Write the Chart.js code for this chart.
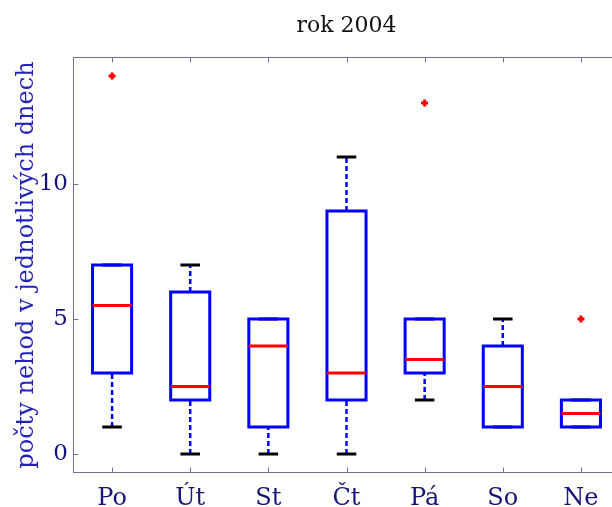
<!DOCTYPE html>
<html>
<head>
<meta charset="utf-8">
<script src="https://cdn.jsdelivr.net/npm/chart.js@4/dist/chart.umd.min.js"></script>
<style>
  html, body { margin: 0; padding: 0; background: #fff; overflow: hidden; }
  #wrap { width: 640px; height: 507px; }
</style>
</head>
<body>
<div id="wrap"><canvas id="c" width="640" height="507"></canvas></div>
<script>
// ---- data ----
const days = ['Po', 'Út', 'St', 'Čt', 'Pá', 'So', 'Ne'];
const whiskerLow  = [1, 0, 0, 0, 2, 1, 1];
const quartile1   = [3, 2, 1, 2, 3, 1, 1];
const medians     = [5.5, 2.5, 4, 3, 3.5, 2.5, 1.5];
const quartile3   = [7, 6, 5, 9, 5, 4, 2];
const whiskerHigh = [7, 7, 5, 11, 5, 5, 2];
const outlierDay   = ['Po', 'Pá', 'Ne'];
const outlierValue = [14, 13, 5];
const yTickValues  = [0, 5, 10];

const chartTitle = 'rok 2004';
const yAxisTitle = 'počty nehod v jednotlivých dnech';

// ---- build datasets from data ----
const BOX_HALF = 0.25, CAP_HALF = 0.125;
const posOf = i => i + 1;
const boxPts = [], medPts = [], whiskPts = [], capPts = [];
days.forEach((d, i) => {
  const p = posOf(i);
  boxPts.push({x: p - BOX_HALF, y: quartile1[i]}, {x: p + BOX_HALF, y: quartile1[i]},
              {x: p + BOX_HALF, y: quartile3[i]}, {x: p - BOX_HALF, y: quartile3[i]},
              {x: p - BOX_HALF, y: quartile1[i]}, {x: p, y: null});
  medPts.push({x: p - BOX_HALF, y: medians[i]}, {x: p + BOX_HALF, y: medians[i]}, {x: p, y: null});
  whiskPts.push({x: p, y: whiskerLow[i]}, {x: p, y: quartile1[i]}, {x: p, y: null},
                {x: p, y: quartile3[i]}, {x: p, y: whiskerHigh[i]}, {x: p, y: null});
  capPts.push({x: p - CAP_HALF, y: whiskerLow[i]}, {x: p + CAP_HALF, y: whiskerLow[i]}, {x: p, y: null},
              {x: p - CAP_HALF, y: whiskerHigh[i]}, {x: p + CAP_HALF, y: whiskerHigh[i]}, {x: p, y: null});
});
const outPts = outlierDay.map((d, k) => ({x: posOf(days.indexOf(d)), y: outlierValue[k]}));

const SERIF = 'DejaVu Serif';
const NAVY = '#15157a';

const framePlugin = {
  id: 'frame',
  beforeDatasetsDraw(chart) {
    const {ctx, chartArea: a, scales: {x, y}} = chart;
    ctx.save();
    ctx.strokeStyle = '#707092';
    ctx.lineWidth = 1;
    const L = Math.round(a.left) + 0.5, R = Math.round(a.right) - 0.5;
    const T = Math.round(a.top) + 0.5, B = Math.round(a.bottom) - 0.5;
    ctx.strokeRect(L, T, R - L, B - T);
    const tl = 5;
    ctx.beginPath();
    x.ticks.forEach(t => {
      const px = Math.round(x.getPixelForValue(t.value)) + 0.5;
      ctx.moveTo(px, B); ctx.lineTo(px, B - tl);
      ctx.moveTo(px, T); ctx.lineTo(px, T + tl);
    });
    y.ticks.forEach(t => {
      const py = Math.round(y.getPixelForValue(t.value)) + 0.5;
      ctx.moveTo(L, py); ctx.lineTo(L + tl, py);
      ctx.moveTo(R, py); ctx.lineTo(R - tl, py);
    });
    ctx.stroke();
    ctx.restore();
  }
};

new Chart(document.getElementById('c'), {
  type: 'scatter',
  data: {
    datasets: [
      { label: 'outliers', data: outPts, order: 0, showLine: false,
        pointStyle: 'cross', pointRadius: 3.5, pointBorderWidth: 3,
        pointBorderColor: '#ff0000', pointBackgroundColor: '#ff0000' },
      { label: 'median', data: medPts, order: 1, showLine: true, pointRadius: 0,
        borderColor: '#ff0000', borderWidth: 3, spanGaps: false },
      { label: 'box', data: boxPts, order: 2, showLine: true, pointRadius: 0,
        borderColor: '#0000ff', borderWidth: 3, borderCapStyle: 'square',
        borderJoinStyle: 'miter', spanGaps: false },
      { label: 'caps', data: capPts, order: 3, showLine: true, pointRadius: 0,
        borderColor: '#000000', borderWidth: 3, spanGaps: false },
      { label: 'whiskers', data: whiskPts, order: 4, showLine: true, pointRadius: 0,
        borderColor: '#0000ff', borderWidth: 2.5, borderDash: [5, 3], spanGaps: false }
    ]
  },
  options: {
    responsive: false,
    animation: false,
    events: [],
    layout: { padding: { top: 0, left: 0, right: 20, bottom: 0 } },
    plugins: {
      legend: { display: false },
      tooltip: { enabled: false },
      title: {
        display: true, text: chartTitle, fullSize: false,
        color: '#111111',
        font: { family: SERIF, size: 22, weight: 'normal' },
        padding: { top: 13, bottom: 17.6 }
      }
    },
    scales: {
      x: {
        type: 'linear', min: 0.5, max: 7.5, bounds: 'data',
        afterBuildTicks: s => { s.ticks = days.map((d, i) => ({ value: posOf(i) })); },
        afterFit: s => { s.height = 34; },
        grid: { display: false, drawTicks: false },
        border: { display: false },
        ticks: {
          callback: (v, i) => days[i],
          autoSkip: false, maxRotation: 0, padding: 11,
          color: NAVY, font: { family: SERIF, size: 24 }
        }
      },
      y: {
        type: 'linear', min: -0.7, max: 14.7, bounds: 'data',
        afterBuildTicks: s => { s.ticks = yTickValues.map(v => ({ value: v })); },
        afterFit: s => { s.width = 73; },
        grid: { display: false, drawTicks: false },
        border: { display: false },
        ticks: { padding: 5, color: NAVY, font: { family: SERIF, size: 23 } },
        title: {
          display: true, text: yAxisTitle, color: '#2323b8',
          font: { family: SERIF, size: 24 },
          padding: { top: 12, bottom: 0 }
        }
      }
    }
  },
  plugins: [framePlugin]
});
</script>
</body>
</html>
